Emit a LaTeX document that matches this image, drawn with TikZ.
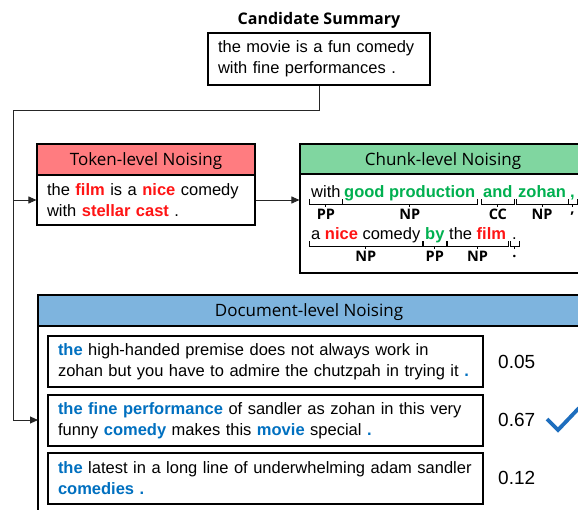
\documentclass[tikz,border=0pt]{standalone}
\usepackage{fontspec}
\setmainfont{Liberation Sans}
\newfontfamily\hfont{Open Sans}
\usetikzlibrary{arrows.meta,calc}
\definecolor{tokred}{RGB}{255,124,128}
\definecolor{chkgreen}{RGB}{128,214,160}
\definecolor{docblue}{RGB}{126,180,222}
\definecolor{wred}{RGB}{255,20,20}
\definecolor{wgreen}{RGB}{0,176,80}
\definecolor{wblue}{RGB}{0,112,192}
\definecolor{checkblue}{RGB}{30,110,190}
\newcommand\rw[1]{\textbf{\color{wred}#1}}
\newcommand\gw[1]{\textbf{\color{wgreen}#1}}
\newcommand\bw[1]{\textbf{\color{wblue}#1}}
\newcommand\chbrace[3]{%
  \draw[brc] ($(#1.base west)+(-2,2)$) -- ++(0,5) -- ($(#1.base east)+(2,7)$) -- ++(0,-5);
  \draw[brc] ($(#1.base)+(0,7)$) -- ++(0,3);
  \node[lbl] (#3) at ($(#1.base)+(0,17)$) {#2};
}
\begin{document}
\begin{tikzpicture}[x=1pt,y=-1pt,
  body/.style={font=\fontsize{16.5}{21}\selectfont},
  txtbox/.style={draw, line width=1.1pt, fill=white, align=left, inner xsep=10pt, inner ysep=0pt, body},
  head/.style={draw, line width=1.3pt, font=\hfont\fontsize{17}{20}\selectfont, inner sep=0pt, text depth=0pt},
  conn/.style={line width=0.9pt, draw=black!85},
  arr/.style={conn, -{Triangle[length=8pt,width=7pt]}},
  ctext/.style={anchor=base west, inner sep=0pt, body},
  brc/.style={line width=0.9pt},
  lbl/.style={inner sep=0pt, font=\hfont\bfseries\fontsize{14.5}{16}\selectfont},
  num/.style={anchor=west, inner sep=0pt, font=\fontsize{19}{22}\selectfont}
]
\useasboundingbox (0,0) rectangle (578,509);

% candidate summary
\node[font=\hfont\bfseries\fontsize{16}{19}\selectfont] (title) at (319,20) {Candidate Summary};
\node[txtbox, text width=202pt, minimum height=52pt] (cand) at (319,59)
  {the movie is a fun comedy\\with fine performances .};

% token-level
\node[txtbox, text width=198pt, minimum height=50pt] (tokBody) at (146,200)
  {the \rw{film} is a \rw{nice} comedy\\with \rw{stellar cast} .};
\node[head, fill=tokred, minimum width=218pt, minimum height=31pt] (tokHead) at (146,159.5) {Token-level Noising};

% chunk-level
\node[draw, line width=1.1pt, fill=white, minimum width=286pt, minimum height=99pt, inner sep=0pt] (chkBody) at (443,223.5) {};
\node[head, fill=chkgreen, minimum width=286pt, minimum height=30pt] (chkHead) at (443,159) {Chunk-level Noising};

\node[ctext] (c1) at (311,197) {with};
\node[ctext] (c2) at (344,197) {\gw{good production}};
\node[ctext] (c3) at (483,197) {\gw{and}};
\node[ctext] (c4) at (518,197) {\gw{zohan}};
\node[ctext] (c5) at (570,197) {\gw{,}};
\chbrace{c1}{PP}{l1}
\chbrace{c2}{NP}{l2}
\chbrace{c3}{CC}{l3}
\chbrace{c4}{NP}{l4}
\chbrace{c5}{,}{l5}

\node[ctext] (d1) at (311,239) {a \rw{nice} comedy};
\node[ctext] (d2) at (425,239) {\gw{by}};
\node[ctext] (d3) at (449,239) {the \rw{film}};
\node[ctext] (d4) at (512,239) {.};
\chbrace{d1}{NP}{m1}
\chbrace{d2}{PP}{m2}
\chbrace{d3}{NP}{m3}
\chbrace{d4}{.}{m4}

% document-level
\node[draw, line width=1.1pt, fill=white, minimum width=542pt, minimum height=204pt, inner sep=0pt] (docBody) at (309,428) {};
\node[head, line width=1.7pt, fill=docblue, minimum width=542pt, minimum height=31pt] (docHead) at (309,310.5) {Document-level Noising};

\node[txtbox, text width=415pt, minimum height=51pt] (s1) at (265.5,361.5)
  {\bw{the} high-handed premise does not always work in\\zohan but you have to admire the chutzpah in trying it \bw{.}};
\node[txtbox, text width=415pt, minimum height=51pt] (s2) at (265.5,420.5)
  {\bw{the fine performance} of sandler as zohan in this very\\funny \bw{comedy} makes this \bw{movie} special \bw{.}};
\node[txtbox, text width=415pt, minimum height=51pt] (s3) at (265.5,478.5)
  {\bw{the} latest in a long line of underwhelming adam sandler\\\bw{comedies .}};

\node[num] (n1) at (498,362) {0.05};
\node[num] (n2) at (498,420) {0.67};
\node[num] (n3) at (498,478) {0.12};
\draw[checkblue, line width=3.8pt] (547,419) -- (558,430) -- (579,408);

% connectors
\coordinate (trunkTop) at (13,110);
\coordinate (docIn) at (38,420);
\draw[arr] (cand.south) |- (trunkTop) |- (docIn);
\draw[arr] (trunkTop |- tokBody.west) -- (tokBody.west);
\draw[arr] (tokBody.east) -- (tokBody.east -| chkBody.west);
\end{tikzpicture}
\end{document}
